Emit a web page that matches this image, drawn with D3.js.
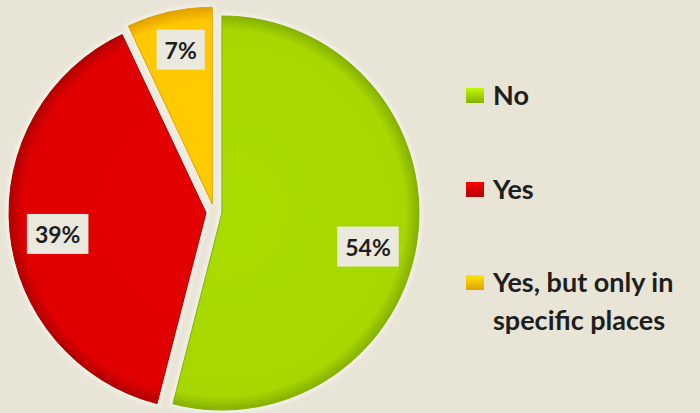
<!DOCTYPE html>
<html>
<head>
<meta charset="utf-8">
<script src="https://cdn.jsdelivr.net/npm/d3@7"></script>
<style>
  html, body { margin: 0; padding: 0; background: #e8e4d6; }
  svg { display: block; }
</style>
</head>
<body>
<svg id="chart" width="700" height="413"></svg>
<script>
// Survey answers and their shares (percent)
const categories = ["No", "Yes", "Yes, but only in specific places"];
const legendLines = [["No"], ["Yes"], ["Yes, but only in", "specific places"]];
const shares = [54, 39, 7];
const sliceColors = ["#a6d800", "#e00000", "#ffc800"];
const rimColors = ["#86b000", "#b00000", "#e0a000"];

const width = 700, height = 413;
const cx = 214, cy = 212, radius = 197, explode = 8;
// per-slice label distance from the wedge tip and angular shift (degrees)
const labelRadius = [150, 150, 157];
const labelShift = [6, -3, 1];

const svg = d3.select("#chart");
svg.append("rect").attr("width", width).attr("height", height).attr("fill", "#e8e4d6");

const defs = svg.append("defs");
sliceColors.forEach((c, i) => {
  const g = defs.append("radialGradient")
    .attr("id", "grad" + i)
    .attr("gradientUnits", "userSpaceOnUse")
    .attr("cx", 0).attr("cy", 0).attr("r", radius);
  g.append("stop").attr("offset", "0%").attr("stop-color", d3.color(c).brighter(0.05));
  g.append("stop").attr("offset", "93%").attr("stop-color", c);
  g.append("stop").attr("offset", "100%").attr("stop-color", rimColors[i]);

  const lg = defs.append("linearGradient").attr("id", "lg" + i)
    .attr("x1", 0).attr("y1", 0).attr("x2", 0).attr("y2", 1);
  lg.append("stop").attr("offset", "0%").attr("stop-color", d3.color(c).brighter(0.4));
  lg.append("stop").attr("offset", "100%").attr("stop-color", rimColors[i]);
});
const glow = defs.append("filter").attr("id", "glow")
  .attr("x", "-20%").attr("y", "-20%").attr("width", "140%").attr("height", "140%");
glow.append("feGaussianBlur").attr("stdDeviation", 2.5);

const pie = d3.pie().sort(null).value(d => d);
const arcs = pie(shares);
const arc = d3.arc().innerRadius(0).outerRadius(radius);

function offset(d) {
  const a = (d.startAngle + d.endAngle) / 2;
  return [cx + explode * Math.sin(a), cy - explode * Math.cos(a)];
}

const slices = svg.append("g").selectAll("g.slice")
  .data(arcs).join("g")
  .attr("class", "slice")
  .attr("transform", d => `translate(${offset(d)})`);

// soft light halo around each wedge
slices.append("path")
  .attr("d", arc)
  .attr("fill", "none")
  .attr("stroke", "#fbfaf4")
  .attr("stroke-width", 5)
  .attr("stroke-opacity", 0.8)
  .attr("filter", "url(#glow)");

slices.append("path")
  .attr("d", arc)
  .attr("fill", (d, i) => `url(#grad${i})`)
  .attr("stroke", (d, i) => rimColors[i])
  .attr("stroke-width", 1);

// value labels
const labels = svg.append("g").selectAll("g.lbl")
  .data(arcs).join("g")
  .attr("class", "lbl")
  .attr("transform", (d, i) => {
    const [ox, oy] = offset(d);
    const a = (d.startAngle + d.endAngle) / 2 + labelShift[i] * Math.PI / 180;
    return `translate(${ox + labelRadius[i] * Math.sin(a)},${oy - labelRadius[i] * Math.cos(a)})`;
  });

labels.append("text")
  .attr("text-anchor", "middle")
  .attr("dy", "0.36em")
  .attr("font-family", "Lato, 'Open Sans', sans-serif")
  .attr("font-weight", "bold")
  .attr("font-size", 23)
  .attr("fill", "#1e1e1e")
  .text(d => d.data + "%");

labels.each(function () {
  const g = d3.select(this);
  const bb = g.select("text").node().getBBox();
  g.insert("rect", "text")
    .attr("x", bb.x - 8).attr("y", bb.y - 6)
    .attr("width", bb.width + 16).attr("height", bb.height + 12)
    .attr("fill", "#ebe9dd");
});

// legend
const legendY = [96, 190, 283];
const legend = svg.append("g").attr("transform", "translate(466,0)");

categories.forEach((name, i) => {
  const item = legend.append("g")
    .attr("class", "item")
    .attr("transform", `translate(0,${legendY[i]})`);
  item.append("rect")
    .attr("x", 0).attr("y", -8)
    .attr("width", 18).attr("height", 15)
    .attr("fill", `url(#lg${i})`);
  legendLines[i].forEach((line, j) => {
    item.append("text")
      .attr("x", 27)
      .attr("y", 9 + j * 38)
      .attr("font-family", "Lato, 'Open Sans', sans-serif")
      .attr("font-weight", "bold")
      .attr("font-size", 27)
      .attr("fill", "#1e1e1e")
      .text(line);
  });
});
</script>
</body>
</html>
